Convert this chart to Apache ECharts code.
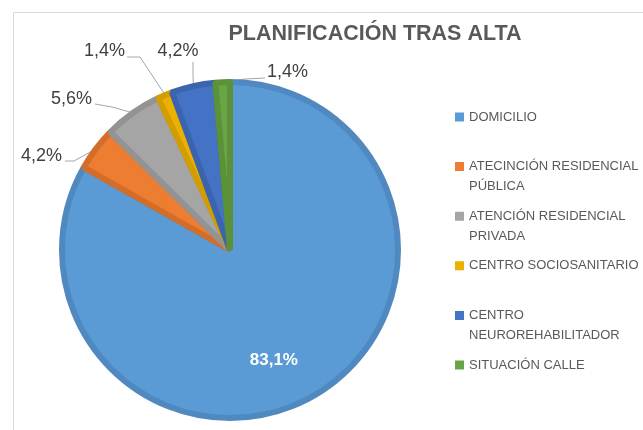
<!DOCTYPE html>
<html>
<head>
<meta charset="utf-8">
<script src="https://cdn.jsdelivr.net/npm/echarts@6/dist/echarts.min.js"></script>
<style>
  html, body { margin: 0; padding: 0; background: #fff; }
  #main { width: 643px; height: 430px; }
</style>
</head>
<body>
<div id="main"></div>
<script>
// categorias y porcentajes del grafico
var categories = ['DOMICILIO', 'ATECINCIÓN RESIDENCIAL PÚBLICA', 'ATENCIÓN RESIDENCIAL PRIVADA',
    'CENTRO SOCIOSANITARIO', 'CENTRO NEUROREHABILITADOR', 'SITUACIÓN CALLE'];
var legendLines = ['DOMICILIO\n ', 'ATECINCIÓN RESIDENCIAL\nPÚBLICA', 'ATENCIÓN RESIDENCIAL\nPRIVADA',
    'CENTRO SOCIOSANITARIO\n ', 'CENTRO\nNEUROREHABILITADOR', 'SITUACIÓN CALLE\n '];
var percentValues = [83.1, 4.2, 5.6, 1.4, 4.2, 1.4];

var fillColors = ['#5B9BD5', '#ED7D31', '#A5A5A5', '#EBB000', '#4472C4', '#68A544'];
var edgeColors = ['#4F89C0', '#D36E2A', '#939393', '#D29D00', '#3B64AE', '#5B9139'];

var myChart = echarts.init(document.getElementById('main'));

var pieData = [];
for (var i = 0; i < categories.length; i++) {
    var item = {
        name: categories[i],
        value: percentValues[i],
        itemStyle: { color: fillColors[i], borderColor: edgeColors[i] }
    };
    if (i === 0) {
        item.label = { position: 'inside', color: '#fff', fontWeight: 'bold', fontSize: 17 };
        item.labelLine = { show: false };
    }
    pieData.push(item);
}

// posicion de las etiquetas externas (como en Excel)
var outsideLabels = {
    1: { x: 62, y: 156, align: 'right', line: [[74, 161], [65, 161]] },
    2: { x: 92, y: 99, align: 'right', line: [[112, 107], [95, 104]] },
    3: { x: 125, y: 51, align: 'right', line: [[140, 57], [127, 57]] },
    4: { x: 178, y: 51, align: 'center', line: [[193, 74], [193, 62]] },
    5: { x: 267, y: 72, align: 'left', line: [[245, 79], [265, 78]] }
};

var option = {
    backgroundColor: '#fff',
    textStyle: { fontFamily: 'Liberation Sans' },
    title: {
        text: 'PLANIFICACIÓN TRAS ALTA',
        left: 370,
        top: 18,
        textAlign: 'center',
        textStyle: { fontSize: 21.5, fontWeight: 'bold', color: '#595959', fontFamily: 'Liberation Sans' }
    },
    graphic: [{
        type: 'rect',
        shape: { x: 13.5, y: 12.5, width: 700, height: 500 },
        style: { fill: 'none', stroke: '#D9D9D9', lineWidth: 1 },
        silent: true
    }],
    legend: {
        orient: 'vertical',
        left: 455,
        top: 107,
        padding: 0,
        itemGap: 9.6,
        itemWidth: 9,
        itemHeight: 40,
        icon: 'path://M0,0L0.01,0M0,5.5L9,5.5L9,14.5L0,14.5ZM0,40L0.01,40',
        itemStyle: { borderWidth: 0 },
        selectedMode: false,
        data: categories,
        formatter: function (name) {
            return legendLines[categories.indexOf(name)];
        },
        textStyle: { fontSize: 13, color: '#595959', lineHeight: 20, fontFamily: 'Liberation Sans' }
    },
    series: [{
        type: 'pie',
        center: [230, 250],
        radius: 168,
        startAngle: 90,
        clockwise: true,
        avoidLabelOverlap: false,
        animation: false,
        itemStyle: { borderWidth: 6, borderJoin: 'bevel' },
        label: {
            show: true,
            position: 'outside',
            fontSize: 18,
            color: '#404040',
            formatter: function (p) {
                return p.value.toFixed(1).replace('.', ',') + '%';
            }
        },
        labelLine: {
            show: true,
            lineStyle: { color: '#A6A6A6', width: 1 }
        },
        labelLayout: function (params) {
            var i = params.dataIndex;
            if (i === 0) {
                return { dy: 35 };
            }
            var cfg = outsideLabels[i];
            var p0 = params.labelLinePoints ? params.labelLinePoints[0] : cfg.line[0];
            return {
                x: cfg.x,
                y: cfg.y,
                align: cfg.align,
                verticalAlign: 'middle',
                labelLinePoints: [p0, cfg.line[0], cfg.line[1]]
            };
        },
        emphasis: { disabled: true },
        data: pieData
    }]
};

myChart.setOption(option);
</script>
</body>
</html>
